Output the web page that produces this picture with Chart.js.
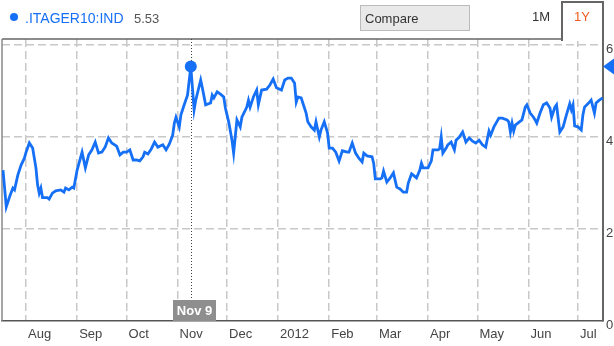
<!DOCTYPE html>
<html lang="en">
<head>
<meta charset="UTF-8">
<title>.ITAGER10:IND</title>
<script src="https://cdn.jsdelivr.net/npm/chart.js"></script>
<style>
    body { margin: 0; background: #fff; font-family: 'Liberation Sans', Arial, sans-serif; }
    #wrap { position: relative; width: 614px; height: 346px; }
    #chart { position: absolute; left: 0; top: 0; }
    .hdr { position: absolute; white-space: nowrap; line-height: 1; }
    #dot { left: 10px; top: 13px; width: 8px; height: 8px; border-radius: 50%; background: #1670f5; }
    #ticker { left: 25px; top: 11px; font-size: 14px; color: #1670f5; }
    #last { left: 134px; top: 12px; font-size: 13px; color: #555; }
    #compare { left: 360px; top: 5px; width: 110px; height: 26px; box-sizing: border-box; background: #e9e9e9; border: 1px solid #bbb; font-size: 13px; color: #333; padding: 6px 0 0 4px; }
    #m1 { left: 532px; top: 10px; font-size: 13px; color: #333; }
    #tab { left: 561px; top: 1px; width: 43px; height: 40px; box-sizing: border-box; border: 2px solid #666; border-bottom: none; background: #fff; }
    #y1 { left: 574px; top: 10px; font-size: 13px; color: #f05a1e; }
</style>
</head>
<body>
<div id="wrap">
    <canvas id="chart" width="614" height="346"></canvas>
    <div class="hdr" id="dot"></div>
    <div class="hdr" id="ticker">.ITAGER10:IND</div>
    <div class="hdr" id="last">5.53</div>
    <div class="hdr" id="compare">Compare</div>
    <div class="hdr" id="m1">1M</div>
    <div class="hdr" id="tab"></div>
    <div class="hdr" id="y1">1Y</div>
</div>

<script>
    // days counted from 1 Aug 2011
    const monthDays = [0, 31, 61, 92, 122, 153, 184, 213, 244, 274, 305, 335];
    const monthLabels = ['Aug', 'Sep', 'Oct', 'Nov', 'Dec', '2012', 'Feb', 'Mar', 'Apr', 'May', 'Jun', 'Jul'];
    const yTicks = [0, 2, 4, 6];

    const days = [
        -14, -12, -10, -8, -7, -5, -3, -1,
        0, 2, 4, 6, 7, 8, 9, 10, 13, 14, 16, 18, 21, 23, 24, 26, 28, 29,
        31, 33, 34, 36, 38, 40, 42, 44, 46, 48, 50, 52, 55, 57, 59,
        61, 63, 65, 67, 69, 71, 72, 74, 76, 78, 80, 83, 85, 87, 89, 90, 91,
        93, 94, 96, 98, 100, 101, 102, 103, 106, 107, 109, 112, 113, 114, 116, 118, 120, 121,
        123, 125, 126, 128, 130, 131, 134, 135, 136, 138, 140, 141, 143, 146, 148, 150, 152,
        155, 157, 159, 161, 163, 164, 165, 167, 168, 170, 171, 173, 175, 176, 178, 179, 181, 183,
        184, 186, 188, 190, 192, 195, 196, 198, 200, 202, 204, 205, 207, 210, 211,
        212, 215, 216, 217, 219, 221, 223, 225, 227, 229, 231, 232, 234, 235, 237, 239, 240, 241,
        244, 246, 247, 250, 251, 252, 253, 255, 256, 258, 260, 261, 263, 265, 267, 269, 271, 273,
        275, 277, 279, 281, 282, 284, 287, 289, 292, 293, 294, 295, 296, 297, 301, 303, 304,
        306, 308, 309, 310, 312, 314, 316, 318, 319, 321, 322, 324, 326, 328, 330, 331, 332, 333,
        335, 337, 338, 339, 341, 343, 345, 346, 348, 350
    ];
    const values = [
        3.28, 2.48, 2.70, 2.89, 2.85, 3.17, 3.39, 3.54,
        3.67, 3.87, 3.76, 3.33, 2.96, 2.78, 2.89, 2.68, 2.68, 2.65, 2.78, 2.83, 2.85, 2.80, 2.89, 2.85, 2.91, 2.89,
        3.28, 3.54, 3.67, 3.33, 3.61, 3.72, 3.89, 3.65, 3.67, 3.78, 3.98, 3.87, 3.80, 3.61, 3.67,
        3.67, 3.72, 3.50, 3.50, 3.48, 3.57, 3.67, 3.63, 3.74, 3.89, 3.78, 3.83, 3.72, 3.85, 4.04, 4.30, 4.43,
        4.22, 4.48, 4.70, 4.91, 5.53, 5.07, 4.59, 4.80, 5.24, 5.07, 4.70, 4.74, 4.91, 4.85, 4.98, 4.93, 4.87, 4.63,
        4.33, 3.93, 3.65, 4.37, 4.22, 4.43, 4.65, 4.80, 4.65, 4.87, 5.02, 4.70, 5.02, 5.04, 5.13, 5.26, 5.07,
        5.02, 5.24, 5.28, 5.28, 5.17, 4.76, 4.87, 4.85, 4.74, 4.52, 4.33, 4.22, 4.15, 4.33, 4.00, 4.15, 4.33, 4.09,
        3.76, 3.76, 3.67, 3.48, 3.70, 3.67, 3.67, 3.87, 3.65, 3.54, 3.46, 3.65, 3.59, 3.57, 3.43,
        3.09, 3.09, 3.11, 3.26, 3.02, 3.11, 3.22, 2.91, 2.87, 2.80, 2.80, 3.00, 3.20, 3.17, 3.11, 3.28, 3.43, 3.33,
        3.33, 3.48, 3.72, 3.72, 3.74, 4.00, 3.65, 3.76, 3.83, 3.89, 3.72, 3.93, 4.00, 4.11, 3.89, 3.98, 3.91, 3.87,
        3.93, 3.83, 3.78, 4.13, 4.04, 4.22, 4.41, 4.41, 4.37, 4.33, 4.11, 4.30, 4.13, 4.26, 4.37, 4.65, 4.70,
        4.52, 4.43, 4.37, 4.30, 4.52, 4.70, 4.74, 4.63, 4.43, 4.65, 4.70, 4.11, 4.22, 4.48, 4.72, 4.59, 4.70, 4.24,
        4.22, 4.15, 4.48, 4.65, 4.72, 4.80, 4.52, 4.74, 4.80, 4.85
    ];

    // hovered point (Nov 9)
    const markDay = 100;
    const markLabel = 'Nov 9';
    const markValue = 5.53;
    const markIndex = days.indexOf(markDay);

    const lineColor = '#1670f5';

    const overlay = {
        id: 'overlay',
        beforeDatasetsDraw(chart) {
            const { ctx, chartArea: a, scales: { x } } = chart;
            ctx.save();
            ctx.lineWidth = 1.5;
            ctx.strokeStyle = '#666';
            ctx.beginPath(); ctx.moveTo(a.left, a.top); ctx.lineTo(a.right, a.top); ctx.stroke();
            ctx.strokeStyle = '#888';
            ctx.beginPath(); ctx.moveTo(a.left, a.top); ctx.lineTo(a.left, a.bottom); ctx.stroke();
            // dotted hover line
            const px = Math.round(x.getPixelForValue(markDay)) + 0.5;
            ctx.strokeStyle = '#444';
            ctx.lineWidth = 1;
            ctx.setLineDash([1, 2]);
            ctx.beginPath(); ctx.moveTo(px, a.top); ctx.lineTo(px, a.bottom - 21); ctx.stroke();
            ctx.restore();
        },
        afterDatasetsDraw(chart) {
            const { ctx, chartArea: a, scales: { x, y } } = chart;
            ctx.save();
            const px = Math.round(x.getPixelForValue(markDay));
            // date box on the axis
            ctx.fillStyle = '#8e8e8e';
            ctx.fillRect(px - 18, a.bottom - 21, 43, 21);
            ctx.fillStyle = '#fff';
            ctx.font = "bold 13px 'Liberation Sans', Arial, sans-serif";
            ctx.textAlign = 'center';
            ctx.textBaseline = 'middle';
            ctx.fillText(markLabel, px + 3.5, a.bottom - 10);
            // value marker on the right axis
            const py = y.getPixelForValue(markValue);
            ctx.fillStyle = lineColor;
            ctx.beginPath();
            ctx.moveTo(a.right, py);
            ctx.lineTo(614, py - 8);
            ctx.lineTo(614, py + 8);
            ctx.closePath();
            ctx.fill();
            ctx.restore();
        }
    };

    Chart.defaults.font.family = "'Liberation Sans', Arial, sans-serif";

    new Chart(document.getElementById('chart'), {
        type: 'line',
        data: {
            datasets: [{
                data: days.map((d, i) => ({ x: d, y: values[i] })),
                borderColor: lineColor,
                borderWidth: 2.8,
                backgroundColor: lineColor,
                pointRadius: c => c.dataIndex === markIndex ? 6 : 0,
                pointBorderWidth: 0,
                tension: 0,
                fill: false
            }]
        },
        options: {
            responsive: false,
            animation: false,
            events: [],
            layout: { padding: { left: 2, top: 39, right: 0, bottom: 0 } },
            plugins: {
                legend: { display: false },
                tooltip: { enabled: false }
            },
            scales: {
                x: {
                    type: 'linear',
                    min: -14.6,
                    max: 350.2,
                    afterBuildTicks: s => { s.ticks = monthDays.map(v => ({ value: v })); },
                    afterFit: s => { s.height = 25; },
                    ticks: {
                        autoSkip: false,
                        maxRotation: 0,
                        align: 'start',
                        labelOffset: 2,
                        padding: 6,
                        color: '#444',
                        font: { size: 13 },
                        callback: v => monthLabels[monthDays.indexOf(v)]
                    },
                    grid: { color: '#c8c8c8', lineWidth: 1.5, drawTicks: false },
                    border: { color: '#555', width: 1.5, dash: [8, 4] }
                },
                y: {
                    position: 'right',
                    min: 0,
                    max: 6.13,
                    afterBuildTicks: s => { s.ticks = yTicks.map(v => ({ value: v })); },
                    afterFit: s => { s.width = 11; },
                    ticks: {
                        padding: 3,
                        labelOffset: 4,
                        color: '#444',
                        font: { size: 13 }
                    },
                    grid: {
                        color: c => (c.tick && c.tick.value === 0) ? 'rgba(0,0,0,0)' : '#c8c8c8',
                        lineWidth: 1.5,
                        drawTicks: false
                    },
                    border: { color: '#666', width: 2, dash: [8, 4] }
                }
            }
        },
        plugins: [overlay]
    });
</script>
</body>
</html>
